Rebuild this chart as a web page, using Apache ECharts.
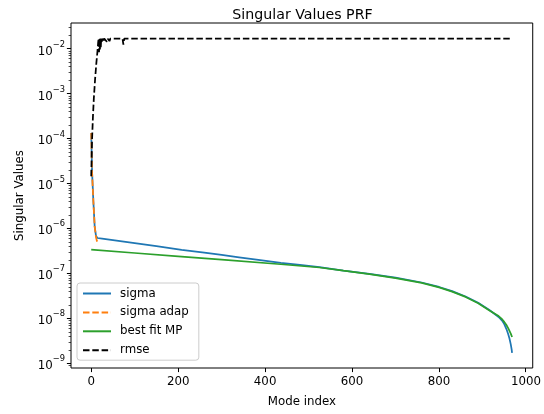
<!DOCTYPE html>
<html><head><meta charset="utf-8">
<script src="https://cdn.jsdelivr.net/npm/echarts@6/dist/echarts.min.js"></script>
<style>html,body{margin:0;padding:0;background:#fff}#c{width:544px;height:414px}</style>
</head><body><div id="c"></div>
<script>
// ---- data ----
const sigmaIdx = [0, 2, 5, 8, 11, 14, 25, 50, 100, 150, 208, 260, 300, 340, 380, 436, 480, 525, 580, 640, 700, 760, 800, 830, 861, 890, 915, 937, 945, 950, 955, 959, 962, 965, 967, 968];
const sigmaVal = [1.35e-4, 1.8e-5, 4.0e-6, 1.12e-6, 7.0e-7, 6.25e-7, 6.05e-7, 5.62e-7, 4.82e-7, 4.13e-7, 3.4e-7, 2.96e-7, 2.63e-7, 2.33e-7, 2.06e-7, 1.74e-7, 1.57e-7, 1.4e-7, 1.18e-7, 9.9e-8, 8.2e-8, 6.4e-8, 5.09e-8, 4.11e-8, 3.13e-8, 2.26e-8, 1.585e-8, 1.096e-8, 9.1e-9, 7.6e-9, 5.9e-9, 4.57e-9, 3.63e-9, 2.69e-9, 2.09e-9, 1.74e-9];

const adapIdx = [0, 1, 2, 3, 5, 8, 11, 13, 15];
const adapVal = [1.35e-4, 4.2e-5, 1.8e-5, 1.05e-5, 4.0e-6, 1.12e-6, 6.5e-7, 5.4e-7, 4.9e-7];

const mpIdx = [0, 100, 200, 300, 436, 525, 580, 640, 700, 760, 800, 830, 861, 890, 915, 937, 945, 950, 955, 959, 962, 965, 968];
const mpVal = [3.43e-7, 2.9e-7, 2.45e-7, 2.07e-7, 1.63e-7, 1.38e-7, 1.17e-7, 9.8e-8, 8.02e-8, 6.25e-8, 4.98e-8, 4.02e-8, 3.06e-8, 2.21e-8, 1.55e-8, 1.148e-8, 9.77e-9, 8.51e-9, 7.24e-9, 6.17e-9, 5.37e-9, 4.68e-9, 3.93e-9];

const rmseIdx = [0, 1, 2, 4, 6, 9, 12, 14, 16, 17, 18, 19, 20, 21, 22, 23, 24, 26, 28, 30, 32, 34, 36, 38, 40, 42, 44, 72, 74, 76, 968];
const rmseVal = [1.48e-5, 4e-5, 1e-4, 3.2e-4, 7.9e-4, 2.2e-3, 5.1e-3, 8.1e-3, 1.4e-2, 1.7e-2, 8.5e-3, 1.7e-2, 9.5e-3, 1.7e-2, 1.1e-2, 1.7e-2, 1.45e-2, 1.7e-2, 1.5e-2, 1.7e-2, 1.6e-2, 1.7e-2, 1.45e-2, 1.7e-2, 1.7e-2, 1.5e-2, 1.7e-2, 1.7e-2, 1.25e-2, 1.7e-2, 1.7e-2];

const seriesNames = ['sigma', 'sigma adap', 'best fit MP', 'rmse'];
const xTicks = [0, 200, 400, 600, 800, 1000];
const yDecades = [-9, -8, -7, -6, -5, -4, -3, -2];
const minorSubs = [2, 3, 4, 5, 6, 7, 8, 9];

// axis extents
const xMin = -46.5, xMax = 1015.5;
const yMin = Math.pow(10, -9.0956), yMax = Math.pow(10, -1.4217);

const zip = (a, b) => a.map((v, i) => [v, b[i]]);
const FONT = 'DejaVu Sans';
const LW = 1.75;
const DASH = [6.5, 2.8];

const chart = echarts.init(document.getElementById('c'), null, {renderer: 'canvas'});

const yMajorVals = yDecades.map(d => Math.pow(10, d));
const yMinorVals = [];
for (let d = -10; d <= -1; d++) for (const s of minorSubs) {
  const v = s * Math.pow(10, d);
  if (v >= yMin && v <= yMax) yMinorVals.push(v);
}

chart.setOption({
  animation: false,
  backgroundColor: '#fff',
  title: {
    text: 'Singular Values PRF',
    left: 302.5, top: 7, textAlign: 'center', padding: 0,
    textStyle: {fontFamily: FONT, fontSize: 14.2, fontWeight: 'normal', color: '#000', lineHeight: 16}
  },
  grid: {left: 71, top: 23, right: 10, bottom: 46, show: true, borderColor: '#000', borderWidth: 1, containLabel: false},
  legend: {
    orient: 'vertical', left: 77, top: 283,
    data: seriesNames,
    itemWidth: 28, itemHeight: 12, itemGap: 6.9,
    padding: [4.5, 10, 4, 5],
    itemStyle: {opacity: 0},
    backgroundColor: 'rgba(255,255,255,0.8)', borderColor: '#cccccc', borderWidth: 1, borderRadius: 3,
    textStyle: {fontFamily: FONT, fontSize: 11.8, color: '#000', padding: [0, 0, 0, 4]}
  },
  xAxis: {
    type: 'value', min: xMin, max: xMax,
    name: 'Mode index', nameLocation: 'middle', nameGap: 28,
    nameTextStyle: {fontFamily: FONT, fontSize: 11.8, color: '#000'},
    axisLine: {show: false, onZero: false},
    axisTick: {show: false},
    axisLabel: {
      fontFamily: FONT, fontSize: 11.8, color: '#000', margin: 8,
      formatter: v => xTicks.includes(v) ? String(v) : ''
    },
    splitLine: {show: false}
  },
  yAxis: {
    type: 'log', logBase: 10, min: yMin, max: yMax,
    name: 'Singular Values', nameLocation: 'middle', nameGap: 45,
    nameTextStyle: {fontFamily: FONT, fontSize: 11.8, color: '#000'},
    axisLine: {show: false, onZero: false},
    axisTick: {show: false},
    axisLabel: {
      margin: 6, color: '#000',
      formatter: v => {
        const l = Math.log10(v), e = Math.round(l);
        if (Math.abs(l - e) > 1e-6 || !yDecades.includes(e)) return '';
        return '{b|10}{s|\u2212' + (-e) + '}';
      },
      rich: {
        b: {fontFamily: FONT, fontSize: 11.8, color: '#000', verticalAlign: 'bottom', lineHeight: 17},
        s: {fontFamily: FONT, fontSize: 8.3, color: '#000', verticalAlign: 'top', lineHeight: 10}
      }
    },
    splitLine: {show: false},
    minorTick: {show: false}
  },
  series: [
    {name: 'sigma', type: 'line', data: zip(sigmaIdx, sigmaVal), showSymbol: false, symbol: 'none',
     lineStyle: {color: '#1f77b4', width: LW}, itemStyle: {color: '#1f77b4'}},
    {name: 'sigma adap', type: 'line', data: zip(adapIdx, adapVal), showSymbol: false, symbol: 'none',
     lineStyle: {color: '#ff7f0e', width: LW, type: DASH}, itemStyle: {color: '#ff7f0e'}},
    {name: 'best fit MP', type: 'line', data: zip(mpIdx, mpVal), showSymbol: false, symbol: 'none',
     lineStyle: {color: '#2ca02c', width: LW}, itemStyle: {color: '#2ca02c'}},
    {name: 'rmse', type: 'line', data: zip(rmseIdx, rmseVal), showSymbol: false, symbol: 'none',
     lineStyle: {color: '#000', width: LW, type: DASH}, itemStyle: {color: '#000'}},
    {name: 'axisTicks', type: 'custom', silent: true, clip: false, z: 5,
     data: [[xMin, yMin]],
     renderItem: (params, api) => {
       const children = [];
       const hLine = (v, len, w) => {
         const p = api.coord([xMin, v]);
         const y = Math.round(p[1] - 0.5) + 0.5;
         children.push({type: 'line', shape: {x1: p[0] - len, y1: y, x2: p[0], y2: y},
                        style: {stroke: '#000', lineWidth: w}});
       };
       yMajorVals.forEach(v => hLine(v, 4.1, 1));
       yMinorVals.forEach(v => hLine(v, 2.4, 0.7));
       xTicks.forEach(t => {
         const p = api.coord([t, yMin]);
         const x = Math.round(p[0] - 0.5) + 0.5;
         children.push({type: 'line', shape: {x1: x, y1: p[1], x2: x, y2: p[1] + 4.1},
                        style: {stroke: '#000', lineWidth: 1}});
       });
       return {type: 'group', children};
     }}
  ]
});
</script>
</body></html>
